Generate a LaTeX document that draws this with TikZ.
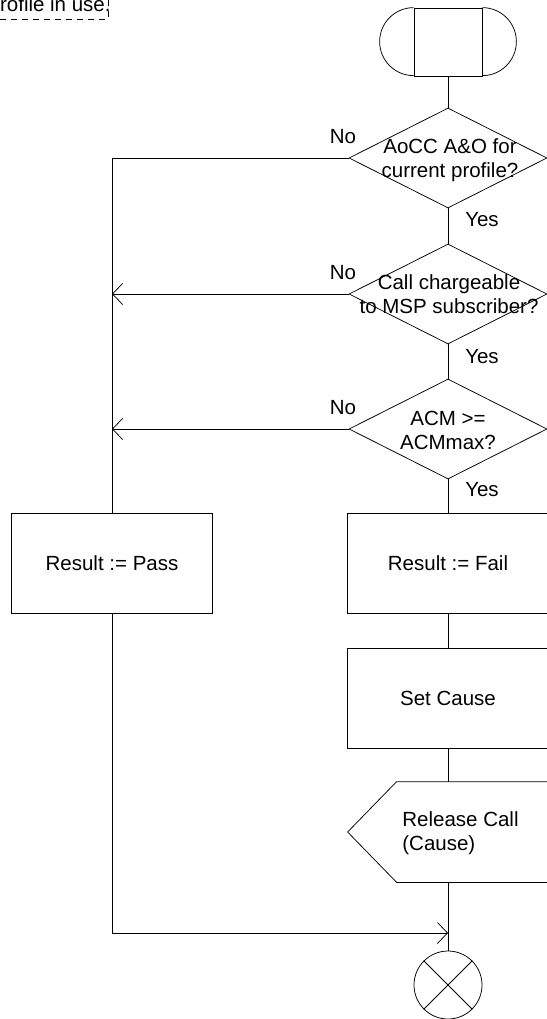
\documentclass[tikz,border=0pt]{standalone}
\usepackage{fontspec}
\setmainfont{Liberation Sans}
\usetikzlibrary{shapes.geometric,arrows.meta}
\begin{document}
\begin{tikzpicture}[x=1pt,y=1pt,
  line width=0.75pt,
  lbl/.style={font=\fontsize{20.5}{24}\selectfont, inner sep=0pt, align=center},
  box/.style={draw, rectangle, minimum width=201pt, minimum height=100pt, inner sep=0pt},
  dia/.style={draw, diamond, minimum width=198pt, minimum height=100pt, inner sep=0pt},
  arr/.style={-{Straight Barb[length=10pt,width=21pt]}}
]
\useasboundingbox (0,0) rectangle (546,-1019);

% comment fragment
\draw[dash pattern=on 6pt off 5pt] (0,-19) -- (108,-19) -- (108,5);
\node[lbl, anchor=base east] (cmt) at (111,-12) {profile in use.};

% start terminal
\node[draw, rectangle, minimum width=68pt, minimum height=68pt, inner sep=0pt] (start) at (448,-42) {};
\draw (start.north west) arc[start angle=90, end angle=270, radius=34pt];
\draw (start.north east) arc[start angle=90, end angle=-90, radius=34pt];

% decisions
\node[dia] (d1) at (448,-158) {};
\node[lbl] (d1t) at (450,-160) {AoCC A\&O for\\current profile?};
\node[dia] (d2) at (448,-294) {};
\node[lbl] (d2t) at (449,-294) {Call chargeable\\to MSP subscriber?};
\node[dia] (d3) at (448,-429) {};
\node[lbl] (d3t) at (448,-430) {ACM >=\\ACMmax?};

% labels
\node[lbl] (no1) at (343,-137) {No};
\node[lbl] (no2) at (343,-273) {No};
\node[lbl] (no3) at (343,-408) {No};
\node[lbl] (yes1) at (482,-220) {Yes};
\node[lbl] (yes2) at (482,-357) {Yes};
\node[lbl] (yes3) at (482,-490) {Yes};

% tasks
\node[box] (pass) at (112,-563) {};
\node[lbl] (passt) at (112,-563) {Result := Pass};
\node[box, minimum width=202pt] (fail) at (448,-563) {};
\node[lbl] (failt) at (448,-563) {Result := Fail};
\node[box, minimum width=202pt] (setc) at (448,-698) {};
\node[lbl] (setct) at (448,-698) {Set Cause};

% release (output signal)
\node[rectangle, minimum width=152pt, minimum height=100pt, inner sep=0pt] (rel) at (473,-832) {};
\draw (rel.north west) -- (rel.north east) -- (rel.south east) -- (rel.south west) -- ([xshift=-49pt]rel.west) -- cycle;
\node[lbl, align=left, anchor=west] (relt) at (402,-833) {Release Call\\(Cause)};

% end
\node[draw, circle, minimum size=68pt, inner sep=0pt] (end) at (448,-985) {};
\draw (end.north west) -- (end.south east) (end.north east) -- (end.south west);

% connectors
\coordinate (join) at (448,-933);
\draw (start.south) -- (d1.north);
\draw (d1.south) -- (d2.north);
\draw (d2.south) -- (d3.north);
\draw (d3.south) -- (fail.north);
\draw (fail.south) -- (setc.north);
\draw (setc.south) -- (setc.south |- rel.north);
\draw (setc.south |- rel.south) -- (end.north);
\draw (d1.west) -| (pass.north);
\draw[arr] (d2.west) -- (d2.west -| pass.north);
\draw[arr] (d3.west) -- (d3.west -| pass.north);
\draw[arr] (pass.south) |- (join);
\end{tikzpicture}
\end{document}
